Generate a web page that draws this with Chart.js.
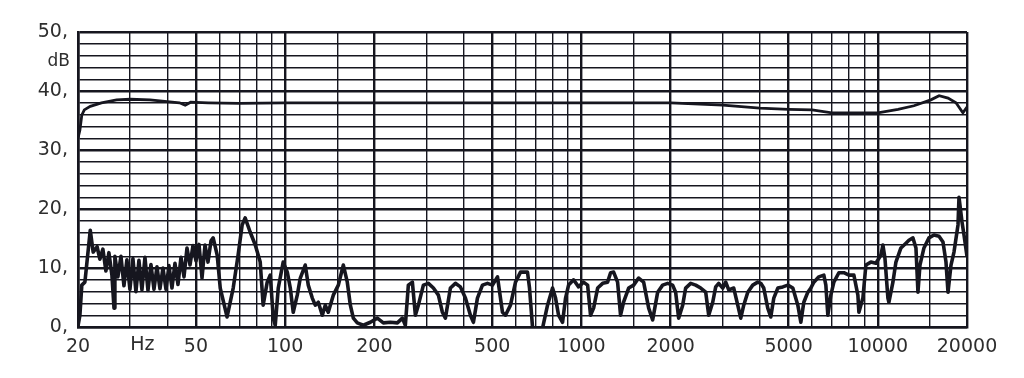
<!DOCTYPE html>
<html>
<head>
<meta charset="utf-8">
<title>Frequency response</title>
<script src="https://cdn.jsdelivr.net/npm/chart.js@4.4.1/dist/chart.umd.min.js"></script>
<style>
  html, body { margin: 0; padding: 0; background: #fff; }
  #wrap { width: 1024px; height: 378px; }
</style>
</head>
<body>
<div id="wrap"><canvas id="chart" width="1024" height="378"></canvas></div>
<script>
// ---------------- data ----------------
// upper curve: level response, dB
const highFreq = [20, 20.3, 20.6, 21, 22, 24, 27, 30, 35, 40, 44, 46, 48, 55, 70, 100, 200, 500, 1000, 2000,
  3000, 4000, 5000, 6000, 7000, 10000, 11700, 13240, 15100, 16100, 17260, 18360, 19370, 20000];
const highDb = [32.0, 33.4, 35.9, 36.8, 37.4, 38.0, 38.5, 38.6, 38.5, 38.2, 38.0, 37.6, 38.1, 38.0, 37.9, 38.0, 38.0, 38.0, 38.0, 38.0,
  37.6, 37.1, 36.9, 36.8, 36.3, 36.3, 36.9, 37.5, 38.5, 39.2, 38.8, 38.0, 36.3, 37.3];

// lower curve: noisy residual, dB (dense band 22-60 Hz traced edge to edge)
const lowFreq = [20, 20.3, 20.6, 21.1, 22.0, 22.5, 23.2, 23.7, 24.27, 24.84, 25.43, 26.03, 26.46, 26.64, 27.27, 27.92, 28.58, 29.25, 29.94, 30.65,
  31.37, 32.11, 32.87, 33.65, 34.44, 35.25, 36.09, 36.94, 37.81, 38.70, 39.62, 40.55, 41.51, 42.49, 43.49, 44.52, 45.57, 46.65, 47.75, 48.87,
  50.03, 51.21, 52.42, 53.66, 54.92, 56.22, 57.17, 58.98, 60.4, 63.7, 66.8, 69.4, 71.6, 73.3, 76.2, 79.3, 82.4, 84.3, 87.0, 89.1,
  91.2, 92.6, 94.8, 98.5, 101.7, 104.1, 106.5, 109.9, 112.5, 116.9, 119.7, 123.5, 126.4, 129.4, 133.5, 136.6, 139.8, 145.4, 151.2, 157.2,
  162.1, 166.0, 169.9, 175.2, 183.6, 193.9, 204.7, 214.5, 226.5, 239.2, 248.7, 254.5, 260.5, 268.8, 275.1, 281.6, 292.8, 304.4, 316.5, 329.0,
  339.4, 347.4, 361.2, 375.5, 390.4, 405.9, 422.0, 432.0, 445.6, 463.3, 481.7, 500.8, 520.7, 541.3, 554.1, 576.1, 599.0, 622.7, 657.5, 667.9,
  683.6, 710.8, 739.0, 768.3, 798.8, 817.7, 837.0, 863.4, 883.8, 904.7, 940.6, 977.9, 1016, 1049, 1073, 1099, 1134, 1179, 1225, 1254,
  1284, 1324, 1355, 1387, 1443, 1500, 1559, 1621, 1686, 1739, 1808, 1879, 1954, 2031, 2079, 2128, 2196, 2247, 2337, 2429,
  2526, 2626, 2688, 2773, 2838, 2905, 2997, 3068, 3140, 3265, 3368, 3448, 3529, 3641, 3785, 3935, 4028, 4123, 4253, 4354,
  4457, 4598, 4780, 4970, 5167, 5372, 5499, 5628, 5807, 5944, 6084, 6325, 6575, 6679, 6783, 6944, 7108, 7390, 7683, 7988,
  8304, 8567, 8634, 8906, 9116, 9478, 9854, 10245, 10405, 10569, 10818, 10903, 11247, 11512, 11969, 12443, 12737, 13141, 13451, 13662,
  13876, 14314, 14882, 15472, 16087, 16595, 16987, 17254, 17661, 18077, 18649, 18794, 19238, 19540, 20000];
const lowDb = [0.2, 2.0, 7.1, 7.6, 16.4, 12.7, 13.6, 11.5, 13.2, 9.5, 12.6, 8.8, 3.2, 12.0, 8.5, 12.0, 7.0, 11.4, 6.4, 11.6,
  6.0, 11.3, 6.3, 11.8, 6.2, 10.6, 6.4, 10.2, 6.5, 10.0, 6.4, 10.4, 6.6, 10.8, 7.2, 11.8, 8.5, 13.4, 10.5, 13.8,
  11.2, 14.0, 8.3, 13.9, 11.0, 14.6, 15.1, 12.2, 6.6, 1.7, 6.6, 12.2, 17.3, 18.5, 16.1, 13.9, 11.0, 3.7, 7.6, 8.8,
  1.5, 0.3, 6.6, 11.0, 9.3, 6.6, 2.5, 5.4, 8.3, 10.5, 7.1, 4.9, 3.7, 4.2, 2.0, 3.7, 2.5, 5.4, 7.1, 10.5,
  7.6, 3.7, 1.5, 0.7, 0.3, 0.8, 1.5, 0.7, 0.8, 0.7, 1.5, 0.3, 7.1, 7.6, 2.0, 3.7, 7.1, 7.4, 6.6, 5.4,
  2.5, 1.5, 6.6, 7.4, 6.8, 4.9, 2.0, 0.8, 4.9, 7.1, 7.4, 7.1, 8.5, 2.5, 2.0, 3.7, 7.6, 9.3, 9.3, 6.6,
  0.0, -0.6, -0.2, 3.7, 6.6, 4.9, 2.0, 0.8, 4.9, 7.1, 8.0, 6.8, 7.6, 7.1, 2.0, 3.2, 6.6, 7.4, 7.6, 9.2,
  9.3, 7.6, 2.0, 4.2, 6.6, 7.1, 8.3, 7.6, 3.2, 1.2, 5.9, 7.1, 7.4, 7.1, 5.9, 1.5, 3.7, 6.6, 7.4, 7.1,
  6.6, 5.9, 2.0, 4.2, 6.8, 7.4, 6.6, 7.6, 6.3, 6.6, 3.7, 1.5, 3.7, 5.9, 7.1, 7.6, 7.4, 6.6, 3.2, 1.7,
  4.9, 6.6, 6.8, 7.1, 6.6, 3.7, 0.8, 4.2, 5.9, 6.6, 7.6, 8.5, 8.8, 7.1, 2.0, 5.4, 7.6, 9.2, 9.2, 8.8,
  8.8, 5.4, 2.5, 4.9, 10.5, 11.0, 10.8, 12.2, 13.9, 11.7, 4.9, 4.2, 7.6, 11.0, 13.4, 14.2, 14.7, 15.1, 13.4, 5.9,
  10.5, 13.4, 15.1, 15.6, 15.4, 14.4, 11.0, 5.9, 10.5, 12.7, 17.3, 22.0, 17.8, 15.6, 12.0];

// grid + tick labels
const xGrid = [20, 30, 40, 50, 60, 70, 80, 90, 100, 150, 200, 300, 400, 500, 600, 700, 800, 900, 1000, 1500,
  2000, 3000, 4000, 5000, 6000, 7000, 8000, 9000, 10000, 15000, 20000];
const xLabels = [20, 50, 100, 200, 500, 1000, 2000, 5000, 10000, 20000];
const yGrid = [0, 2, 4, 6, 8, 10, 12, 14, 16, 18, 20, 22, 24, 26, 28, 30, 32, 34, 36, 38, 40, 42, 44, 46, 48, 50];
const yLabels = [0, 10, 20, 30, 40, 50];

const INK = '#16161f';
const TEXT = '#2e2e2e';
const FONT = 'DejaVu Sans';

// ---------------- extra axis words ("Hz", "dB") ----------------
const unitLabels = {
  id: 'unitLabels',
  afterDraw(chart) {
    const { ctx, scales: { x, y } } = chart;
    ctx.save();
    ctx.fillStyle = TEXT;
    ctx.font = `19px "${FONT}"`;
    ctx.textAlign = 'center';
    ctx.textBaseline = 'top';
    ctx.fillText('Hz', x.getPixelForValue(33), x.top + 9);
    ctx.font = `17px "${FONT}"`;
    ctx.textAlign = 'right';
    ctx.textBaseline = 'middle';
    ctx.fillText('dB', y.left + y.width - 8, y.getPixelForValue(45.0));
    ctx.restore();
  }
};

const pts = (xs, ys) => xs.map((f, i) => ({ x: f, y: ys[i] }));

new Chart(document.getElementById('chart'), {
  type: 'line',
  data: {
    datasets: [
      { data: pts(highFreq, highDb), borderColor: INK, borderWidth: 2.8, pointRadius: 0, tension: 0 },
      { data: pts(lowFreq, lowDb), borderColor: INK, borderWidth: 3.6, pointRadius: 0, tension: 0, borderJoinStyle: 'round' }
    ]
  },
  options: {
    responsive: false,
    animation: false,
    layout: { padding: { top: 32, right: 57, left: 0, bottom: 0 } },
    plugins: { legend: { display: false }, tooltip: { enabled: false } },
    scales: {
      x: {
        type: 'logarithmic', min: 20, max: 20000,
        afterBuildTicks: s => { s.ticks = xGrid.map(v => ({ value: v })); },
        afterFit: s => { s.height = 51; },
        ticks: {
          autoSkip: false, maxRotation: 0, padding: 9, color: TEXT,
          font: { family: FONT, size: 19 },
          callback: v => xLabels.includes(v) ? String(v) : ''
        },
        grid: {
          color: INK, drawTicks: false,
          lineWidth: c => (c.tick && xLabels.includes(c.tick.value)) ? 2.4 : 1.4
        },
        border: { color: INK, width: 2.6 }
      },
      y: {
        min: 0, max: 50,
        afterBuildTicks: s => { s.ticks = yGrid.map(v => ({ value: v })); },
        afterFit: s => { s.width = 78; },
        ticks: {
          autoSkip: false, padding: 10, color: TEXT,
          font: { family: FONT, size: 19 },
          callback: v => yLabels.includes(v) ? v + ',' : ''
        },
        grid: {
          color: INK, drawTicks: false,
          lineWidth: c => (c.tick && yLabels.includes(c.tick.value)) ? 2.6 : 1.4
        },
        border: { color: INK, width: 2.6 }
      }
    }
  },
  plugins: [unitLabels]
});
</script>
</body>
</html>
